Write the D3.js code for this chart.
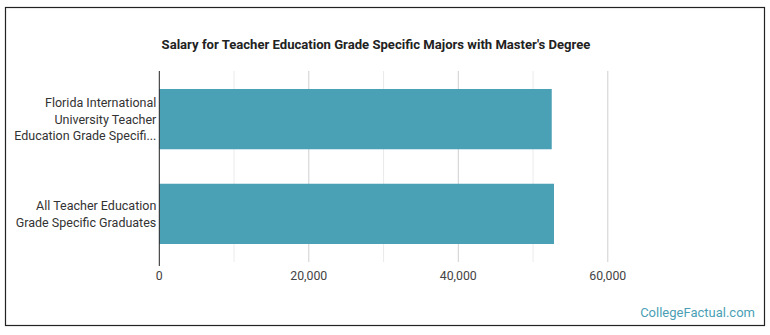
<!DOCTYPE html>
<html lang="en">
<head>
<meta charset="UTF-8">
<title>Salary for Teacher Education Grade Specific Majors</title>
<script src="https://d3js.org/d3.v7.min.js"></script>
<style>
  body { margin: 0; background: #fff; font-family: Roboto, "Noto Sans", sans-serif; }
  .frame { fill: none; stroke: #222; stroke-width: 1.2; }
  .title { font-weight: bold; font-size: 13.1px; fill: #222; }
  .ylab { font-size: 12.5px; fill: #333; }
  .xlab { font-size: 12.3px; fill: #444; }
  .brand { font-size: 13px; fill: #4a9fb5; }
</style>
</head>
<body>
<svg id="chart" width="770" height="335"></svg>
<script>
// data
var categories = [
  ["Florida International", "University Teacher", "Education Grade Specifi..."],
  ["All Teacher Education", "Grade Specific Graduates"]
];
var salaries = [52500, 52800];
var majorTicks = [0, 20000, 40000, 60000];
var gridTicks = [10000, 20000, 30000, 40000, 50000, 60000];

var margin = {top: 71, left: 159.3, bottom: 262};
var svg = d3.select("#chart");

svg.append("rect")
    .attr("class", "frame")
    .attr("x", 5.5).attr("y", 7.5)
    .attr("width", 759).attr("height", 318);

svg.append("text")
    .attr("class", "title")
    .attr("x", 376).attr("y", 49)
    .attr("text-anchor", "middle")
    .text("Salary for Teacher Education Grade Specific Majors with Master's Degree");

var x = d3.scaleLinear().domain([0, 10000]).range([margin.left, margin.left + 74.75]);
var y = d3.scaleBand().domain(d3.range(categories.length))
    .range([margin.top, margin.bottom]).paddingInner(0.364).paddingOuter(0.19);

// gridlines
svg.append("g").selectAll("line")
    .data(gridTicks)
  .enter().append("line")
    .attr("x1", function(d) { return x(d); })
    .attr("x2", function(d) { return x(d); })
    .attr("y1", margin.top).attr("y2", margin.bottom)
    .attr("stroke", function(d) { return majorTicks.indexOf(d) >= 0 ? "#cfcfcf" : "#ebebeb"; })
    .attr("stroke-width", 1);

// bars
svg.append("g").selectAll("rect")
    .data(salaries)
  .enter().append("rect")
    .attr("x", x(0))
    .attr("y", function(d, i) { return y(i); })
    .attr("width", function(d) { return x(d) - x(0); })
    .attr("height", y.bandwidth())
    .attr("fill", "#4aa0b4");

// axis line
svg.append("line")
    .attr("x1", x(0)).attr("x2", x(0))
    .attr("y1", margin.top).attr("y2", margin.bottom + 4)
    .attr("stroke", "#222").attr("stroke-width", 1);

// x labels
svg.append("g").selectAll("text")
    .data(majorTicks)
  .enter().append("text")
    .attr("class", "xlab")
    .attr("x", function(d) { return x(d); })
    .attr("y", 280)
    .attr("text-anchor", "middle")
    .text(function(d) { return d3.format(",")(d); });

// category labels
var lineH = 16.5;
svg.append("g").selectAll("text")
    .data(categories)
  .enter().append("text")
    .attr("class", "ylab")
    .attr("text-anchor", "end")
    .attr("transform", function(d, i) {
      var cy = y(i) + y.bandwidth() / 2;
      return "translate(" + (x(0) - 3) + "," + (cy - (d.length - 1) * lineH / 2 + 4.4) + ")";
    })
    .each(function(d) {
      var t = d3.select(this);
      d.forEach(function(s, k) {
        t.append("tspan").attr("x", 0).attr("y", k * lineH).text(s);
      });
    });

svg.append("text")
    .attr("class", "brand")
    .attr("x", 755).attr("y", 317)
    .attr("text-anchor", "end")
    .text("CollegeFactual.com");
</script>
</body>
</html>
